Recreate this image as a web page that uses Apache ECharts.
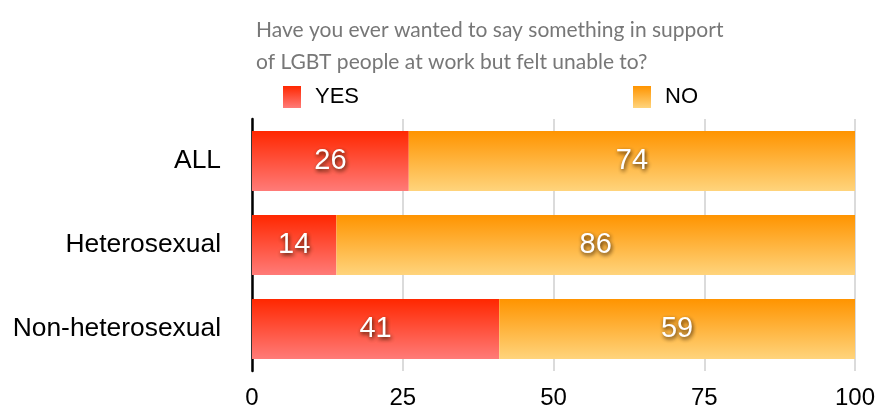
<!DOCTYPE html>
<html>
<head>
<meta charset="utf-8">
<script src="https://cdn.jsdelivr.net/npm/echarts@6/dist/echarts.min.js"></script>
<style>
  html, body { margin: 0; padding: 0; background: #fff; }
  #chart { width: 890px; height: 410px; }
</style>
</head>
<body>
<div id="chart"></div>
<script>
// Survey question and answer breakdown (percent of respondents)
const titleText = 'Have you ever wanted to say something in support\nof LGBT people at work but felt unable to?';
const categories = ['ALL', 'Heterosexual', 'Non-heterosexual'];
const seriesNames = ['YES', 'NO'];
const yesValues = [26, 14, 41];
const noValues = [74, 86, 59];
const xTicks = [0, 25, 50, 75, 100];

const yesGradient = new echarts.graphic.LinearGradient(0, 0, 0, 1, [
  { offset: 0, color: '#ff2700' },
  { offset: 1, color: '#ff7b78' }
]);
const noGradient = new echarts.graphic.LinearGradient(0, 0, 0, 1, [
  { offset: 0, color: '#ff9400' },
  { offset: 1, color: '#ffd47c' }
]);

const labelFont = '"Liberation Sans", Arial, Helvetica, sans-serif';

const valueLabel = {
  show: true,
  position: 'inside',
  color: '#fff',
  fontFamily: labelFont,
  fontSize: 29,
  textShadowColor: 'rgba(40,20,0,0.9)',
  textShadowBlur: 4,
  textShadowOffsetX: 1,
  textShadowOffsetY: 2
};

const chart = echarts.init(document.getElementById('chart'), null, { renderer: 'canvas' });

chart.setOption({
  animation: false,
  title: {
    text: titleText,
    left: 251,
    top: 9,
    textStyle: {
      fontFamily: 'Lato, sans-serif',
      fontWeight: 'normal',
      fontSize: 21,
      lineHeight: 32,
      color: '#777'
    }
  },
  legend: [
    {
      data: [seriesNames[0]],
      left: 283,
      top: 86,
      padding: 0,
      itemWidth: 18,
      itemHeight: 22,
      icon: 'rect',
      textStyle: { fontFamily: labelFont, fontSize: 22, color: '#000', padding: [2, 0, 0, 9] }
    },
    {
      data: [seriesNames[1]],
      left: 633,
      top: 86,
      padding: 0,
      itemWidth: 18,
      itemHeight: 22,
      icon: 'rect',
      textStyle: { fontFamily: labelFont, fontSize: 22, color: '#000', padding: [2, 0, 0, 9] }
    }
  ],
  grid: { left: 252, right: 35, top: 119, bottom: 37 },
  xAxis: {
    type: 'value',
    min: xTicks[0],
    max: xTicks[xTicks.length - 1],
    interval: 25,
    axisLine: { show: false },
    axisTick: { show: false },
    splitLine: { show: true, lineStyle: { color: '#cfcfcf', width: 1.5 } },
    axisLabel: { fontFamily: labelFont, fontSize: 24, color: '#000', margin: 15 }
  },
  yAxis: {
    type: 'category',
    data: categories,
    inverse: true,
    axisLine: { show: true, lineStyle: { color: '#000', width: 2.5 } },
    axisTick: { show: false },
    axisLabel: { fontFamily: labelFont, fontSize: 26.4, color: '#000', margin: 31 }
  },
  series: [
    {
      name: seriesNames[0],
      type: 'bar',
      stack: 'total',
      barWidth: 60,
      data: yesValues,
      itemStyle: { color: yesGradient },
      label: valueLabel
    },
    {
      name: seriesNames[1],
      type: 'bar',
      stack: 'total',
      barWidth: 60,
      data: noValues,
      itemStyle: { color: noGradient },
      label: valueLabel
    }
  ]
});
</script>
</body>
</html>
